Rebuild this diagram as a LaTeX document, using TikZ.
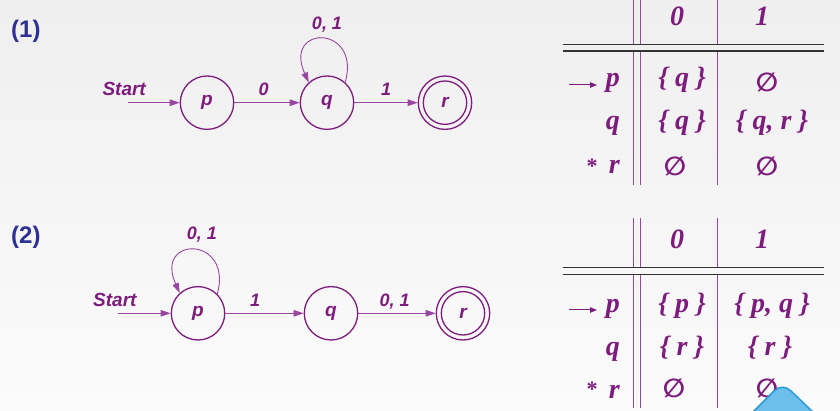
\documentclass[tikz,border=0pt]{standalone}
\usepackage{fontspec}
\setmainfont{Liberation Sans}
\newfontfamily\tabfont{Liberation Serif}
\newfontfamily\symfont{DejaVu Sans}
\usetikzlibrary{arrows.meta}
\definecolor{dpurple}{HTML}{7D1C7D}
\definecolor{lpurple}{HTML}{9A45A0}
\definecolor{numblue}{HTML}{2E3192}
\definecolor{bgtop}{HTML}{EFEFF0}
\definecolor{bgbot}{HTML}{FBFBFB}
\definecolor{rulegray}{HTML}{333333}
\definecolor{bluefill}{HTML}{6CBFEA}
\definecolor{blueline}{HTML}{2B9AD6}
\begin{document}
\begin{tikzpicture}[x=1pt,y=-1pt,
  state/.style={circle, draw=dpurple, line width=1.3pt, minimum size=53.4pt, inner sep=0pt,
    font=\fontsize{19}{19}\selectfont\bfseries\itshape, text=dpurple},
  edge/.style={draw=lpurple, line width=0.9pt, -{Triangle[length=10pt,width=6.5pt]}},
  elabel/.style={font=\fontsize{18}{18}\selectfont\bfseries\itshape, text=dpurple, inner sep=0pt, anchor=base},
  startlbl/.style={font=\fontsize{19}{19}\selectfont\bfseries\itshape, text=dpurple, inner sep=0pt, anchor=base west},
  numlbl/.style={font=\fontsize{24}{24}\selectfont\bfseries, text=numblue, inner sep=0pt, anchor=base west},
  tcell/.style={font=\tabfont\fontsize{28}{28}\selectfont\bfseries\itshape, text=dpurple, inner sep=0pt, anchor=base},
  trow/.style={tcell, anchor=base east},
  tempty/.style={font=\symfont\fontsize{26}{26}\selectfont\bfseries, text=dpurple, inner sep=0pt, anchor=center},
  tstar/.style={font=\tabfont\fontsize{22}{22}\selectfont\bfseries, text=dpurple, inner sep=0pt, anchor=center},
  vrule/.style={draw=lpurple, line width=0.9pt},
  hrule/.style={draw=rulegray, line width=1.1pt},
  tabarrow/.style={draw=dpurple, line width=1pt, -{Triangle[length=7pt,width=5.5pt]}}
]
\clip (0,0) rectangle (840,411);
\shade[top color=bgtop, bottom color=bgbot] (0,0) rectangle (840,411);

% ---------- (1) ----------
\node[numlbl] (n1) at (11,37.3) {(1)};
\node[startlbl] (s1) at (102.3,96) {Start};
\coordinate (s1a) at (128,102.7);
\node[state] (p1) at (207,102.7) {p};
\node[state] (q1) at (327,102.7) {q};
\node[state] (r1) at (445,102.7) {r};
\draw[dpurple, line width=1.3pt] (r1.center) circle[radius=21.7pt];
\draw[edge] (s1a) -- (p1);
\draw[edge] (p1) -- node[elabel, pos=0.45, yshift=7pt] (l1a) {0} (q1);
\draw[edge] (q1) -- node[elabel, pos=0.5, yshift=7pt] (l1b) {1} (r1);
\draw[edge] (q1.48) .. controls +(16,-58) and +(-26,-58) .. (q1.132);
\node[elabel] (l1c) at (327,30) {0, 1};

% ---------- (2) ----------
\node[numlbl] (n2) at (11,243.3) {(2)};
\node[startlbl] (s2) at (93,306.7) {Start};
\coordinate (s2a) at (118,313.3);
\node[state] (p2) at (198,313.3) {p};
\node[state] (q2) at (331,313.3) {q};
\node[state] (r2) at (463,313.3) {r};
\draw[dpurple, line width=1.3pt] (r2.center) circle[radius=21.7pt];
\draw[edge] (s2a) -- (p2);
\draw[edge] (p2) -- node[elabel, pos=0.38, yshift=6.6pt] (l2a) {1} (q2);
\draw[edge] (q2) -- node[elabel, pos=0.47, yshift=6.6pt] (l2b) {0, 1} (r2);
\draw[edge] (p2.45) .. controls +(16,-58) and +(-26,-58) .. (p2.132);
\node[elabel] (l2c) at (202,240) {0, 1};

% ---------- table 1 ----------
\draw[vrule] (633.3,0) -- (633.3,44.3) (640,0) -- (640,44.3) (717.7,0) -- (717.7,44.3);
\draw[vrule] (633.3,51) -- (633.3,185) (640,51) -- (640,185) (717.7,51) -- (717.7,185);
\draw[hrule] (562.7,44.3) -- (824.3,44.3) (562.7,51) -- (824.3,51);
\node[tcell] (h10) at (677,26) {0};
\node[tcell] (h11) at (762,26) {1};
\node[trow] (t1p) at (620,87) {p};
\coordinate (t1a) at (569,85);
\coordinate (t1b) at (597,85);
\draw[tabarrow] (t1a) -- (t1b);
\node[tcell] (c1p0) at (682,87) {\{ q \}};
\node[tempty] (c1p1) at (767,82.5) {∅};
\node[trow] (t1q) at (620,130) {q};
\node[tcell] (c1q0) at (682,130) {\{ q \}};
\node[tcell] (c1q1) at (772,130) {\{ q, r \}};
\node[tstar] (t1s) at (592,166) {*};
\node[trow] (t1r) at (620,173.3) {r};
\node[tempty] (c1r0) at (675,166.7) {∅};
\node[tempty] (c1r1) at (767,166.7) {∅};

% ---------- table 2 ----------
\draw[vrule] (633.3,217.7) -- (633.3,267.3) (640,217.7) -- (640,267.3) (717.7,217.7) -- (717.7,267.3);
\draw[vrule] (633.3,274.3) -- (633.3,408) (640,274.3) -- (640,408) (717.7,274.3) -- (717.7,408);
\draw[hrule] (562.7,267.3) -- (824.3,267.3) (562.7,274.3) -- (824.3,274.3);
\node[tcell] (h20) at (677,249) {0};
\node[tcell] (h21) at (762,249) {1};
\node[trow] (t2p) at (620,312.3) {p};
\coordinate (t2a) at (569,310);
\coordinate (t2b) at (597,310);
\draw[tabarrow] (t2a) -- (t2b);
\node[tcell] (c2p0) at (682,312.3) {\{ p \}};
\node[tcell] (c2p1) at (772,312.3) {\{ p, q \}};
\node[trow] (t2q) at (620,355.3) {q};
\node[tcell] (c2q0) at (682,355.3) {\{ r \}};
\node[tcell] (c2q1) at (770,355.3) {\{ r \}};
\node[tstar] (t2s) at (592,389) {*};
\node[trow] (t2r) at (620,398.3) {r};
\node[tempty] (c2r0) at (674,388) {∅};
\node[tempty] (c2r1) at (767,388) {∅};

% ---------- blue shape ----------
\draw[fill=bluefill, draw=blueline, line width=1.5pt] (752,413) -- (774,391) .. controls (779,386) and (786,386) .. (791,391) -- (814,413);
\end{tikzpicture}
\end{document}
